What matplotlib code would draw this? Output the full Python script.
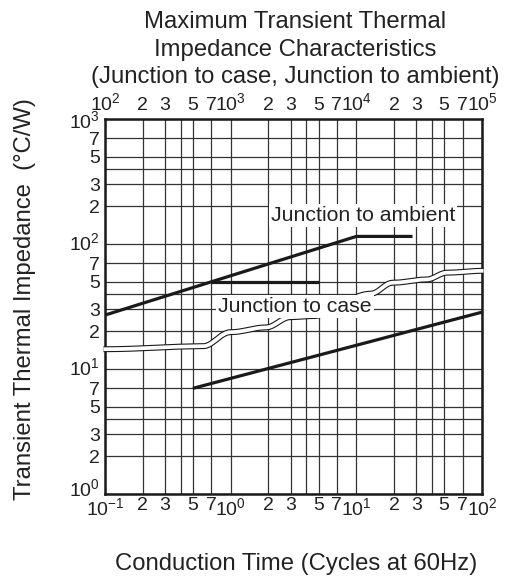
import numpy as np
import matplotlib
matplotlib.use("Agg")
import matplotlib.pyplot as plt
import matplotlib.transforms as mtransforms
from matplotlib.ticker import FixedLocator, NullFormatter

plt.rcParams["font.family"] = ["Liberation Sans", "DejaVu Sans"]
plt.rcParams["mathtext.fontset"] = "custom"
plt.rcParams["mathtext.rm"] = "Liberation Sans"
plt.rcParams["mathtext.it"] = "Liberation Sans:italic"
plt.rcParams["mathtext.bf"] = "Liberation Sans:bold"

# ---- data -------------------------------------------------------------
# Junction to ambient: rising segment then flat, plus the short flat branch
ambient_x = [0.1, 10, 28]
ambient_y = [27, 115, 115]
ambient_branch_x = [0.7, 5]
ambient_branch_y = [50, 50]

# Junction to case
case_x = [0.5, 100]
case_y = [7, 28.5]

# scale-break band (wavy double line)
band_x = [0.1, 0.6, 1.0, 1.9, 3.0, 4.5, 13, 19.5, 36, 53, 100]
band_y = [14.4, 15.2, 19.7, 21.5, 26.0, 26.5, 40, 49, 52, 59, 61]

# axis ticks
bottom_ticks = [0.1, 0.2, 0.3, 0.5, 0.7, 1, 2, 3, 5, 7, 10, 20, 30, 50, 70, 100]
bottom_labels = [r"$10^{-1}$", "2", "3", "5", "7", r"$10^{0}$", "2", "3", "5", "7",
                 r"$10^{1}$", "2", "3", "5", "7", r"$10^{2}$"]
top_ticks = [1e2, 2e2, 3e2, 5e2, 7e2, 1e3, 2e3, 3e3, 5e3, 7e3, 1e4, 2e4, 3e4, 5e4, 7e4, 1e5]
top_labels = [r"$10^{2}$", "2", "3", "5", "7", r"$10^{3}$", "2", "3", "5", "7",
              r"$10^{4}$", "2", "3", "5", "7", r"$10^{5}$"]
y_ticks = [1, 2, 3, 5, 7, 10, 20, 30, 50, 70, 100, 200, 300, 500, 700, 1000]
y_labels = [r"$10^{0}$", "2", "3", "5", "7", r"$10^{1}$", "2", "3", "5", "7",
            r"$10^{2}$", "2", "3", "5", "7", r"$10^{3}$"]
grid_extra = [4, 40, 400]          # unlabeled grid lines at 4 per decade
grid_extra_x = [0.4, 4, 40]

W, H = 512, 581
fig = plt.figure(figsize=(W / 100, H / 100), dpi=100)
ax = fig.add_axes([105 / W, 1 - 494 / H, (482 - 105) / W, (494 - 119) / H])
ax.set_xscale("log")
ax.set_yscale("log")
ax.set_xlim(0.1, 100)
ax.set_ylim(1, 1000)

tick_fs = 14.0
txt = "#222222"
ax.xaxis.set_major_locator(FixedLocator(bottom_ticks))
ax.xaxis.set_minor_locator(FixedLocator(grid_extra_x))
ax.set_xticklabels(bottom_labels, fontsize=tick_fs)
ax.xaxis.set_minor_formatter(NullFormatter())
ax.yaxis.set_major_locator(FixedLocator(y_ticks))
ax.yaxis.set_minor_locator(FixedLocator(grid_extra))
ax.set_yticklabels(y_labels, fontsize=tick_fs)
ax.yaxis.set_minor_formatter(NullFormatter())
ax.tick_params(which="both", length=0, colors=txt)
ax.tick_params(axis="x", pad=2.0)
ax.tick_params(axis="y", pad=3.5)
ax.grid(which="both", color="#333333", lw=0.9)
ax.set_axisbelow(True)
for s in ax.spines.values():
    s.set_linewidth(1.8)
    s.set_color("#1a1a1a")

# decade labels on the y axis sit slightly above their grid line
lifts = {r"$10^{0}$": 7, r"$10^{1}$": 3, r"$10^{2}$": 3, r"$10^{3}$": 0}
for lab, txt_label in zip(ax.get_yticklabels(), y_labels):
    if txt_label in lifts:
        off = mtransforms.ScaledTranslation(0, lifts[txt_label] / 100, fig.dpi_scale_trans)
        lab.set_transform(lab.get_transform() + off)

top = ax.secondary_xaxis("top", functions=(lambda x: x * 1000, lambda x: x / 1000))
top.set_xscale("log")
top.xaxis.set_major_locator(FixedLocator(top_ticks))
top.xaxis.set_minor_locator(FixedLocator([]))
top.set_xticklabels(top_labels, fontsize=tick_fs)
top.tick_params(which="both", length=0, pad=3.5, colors=txt)
top.spines["top"].set_visible(False)

# characteristic lines
lc = "#1a1a1a"
ax.plot(ambient_x, ambient_y, color=lc, lw=2.3, zorder=3, solid_capstyle="butt")
ax.plot(ambient_branch_x, ambient_branch_y, color=lc, lw=2.3, zorder=3, solid_capstyle="butt")
ax.plot(case_x, case_y, color=lc, lw=2.3, zorder=3, solid_capstyle="butt")

# wavy break band: smooth (cosine) transitions between anchors in log space
lx = np.log10(band_x)
ly = np.log10(band_y)
px, py = [], []
for i in range(len(lx) - 1):
    t = np.linspace(0, 1, 40, endpoint=False)
    s = (1 - np.cos(np.pi * t)) / 2
    px.extend(lx[i] + (lx[i + 1] - lx[i]) * t)
    py.extend(ly[i] + (ly[i + 1] - ly[i]) * s)
px.append(lx[-1]); py.append(ly[-1])
px = np.array(px); py = np.array(py)
px[0] -= 0.012; px[-1] += 0.012
bx, by = 10 ** px, 10 ** py
ax.plot(bx, by, color="#1a1a1a", lw=4.3, zorder=4, clip_on=False, solid_capstyle="butt")
ax.plot(bx, by, color="white", lw=2.7, zorder=4.1, clip_on=False, solid_capstyle="butt")

# curve labels on white boxes
label_fs = 15.3
box = dict(facecolor="white", edgecolor="none", pad=1.5)
ax.text(11.3, 170, "Junction to ambient", fontsize=label_fs, ha="center", va="center",
        color=txt, bbox=box, zorder=5)
ax.text(3.25, 31.6, "Junction to case", fontsize=label_fs, ha="center", va="center",
        color=txt, bbox=box, zorder=5)

# titles and axis labels
title_fs = 17.2
for yy, line in zip([28, 56, 83], ["Maximum Transient Thermal",
                                    "Impedance Characteristics",
                                    "(Junction to case, Junction to ambient)"]):
    fig.text(295 / W, 1 - yy / H, line, fontsize=title_fs, ha="center", va="baseline",
             color=txt)
fig.text(296 / W, 1 - 570 / H, "Conduction Time (Cycles at 60Hz)", fontsize=title_fs,
         ha="center", va="baseline", color=txt)
fig.text(25 / W, 1 - 299 / H, "Transient Thermal Impedance  (°C/W)", fontsize=title_fs,
         ha="center", va="center", rotation=90, color=txt)

fig.savefig("out.png", dpi=100, facecolor="white")
